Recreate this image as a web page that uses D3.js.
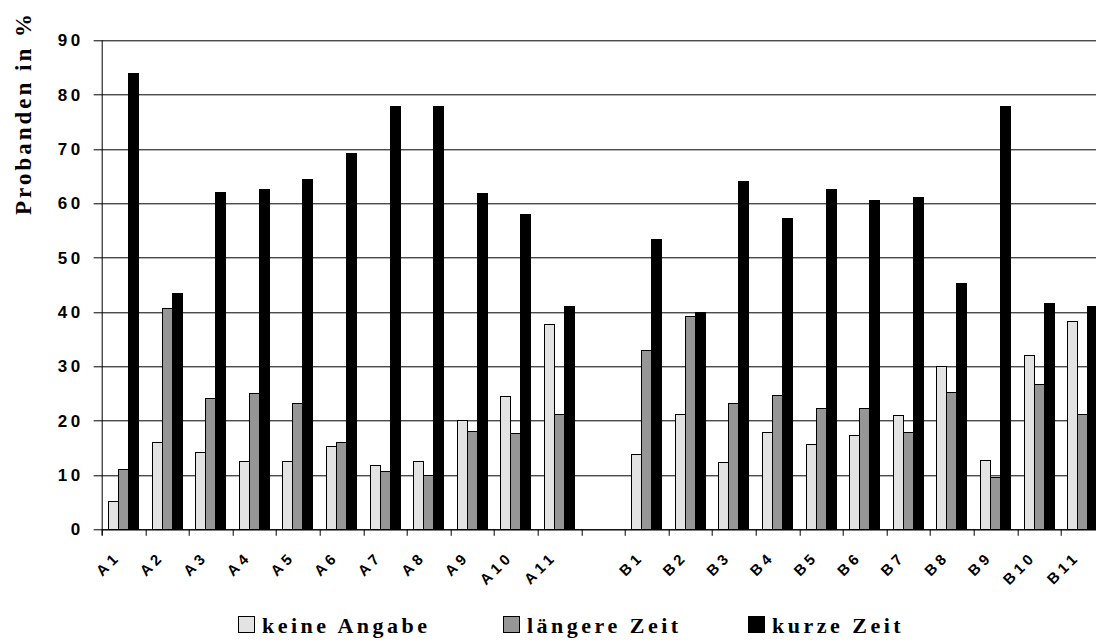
<!DOCTYPE html>
<html>
<head>
<meta charset="utf-8">
<script src="https://cdn.jsdelivr.net/npm/d3@7"></script>
<style>
  html, body { margin: 0; padding: 0; background: #fff; overflow: hidden; }
  svg { display: block; }
</style>
</head>
<body>
<div id="chart"></div>
<script>
// categories (empty slot between the A and B block)
const categories = ["A1", "A2", "A3", "A4", "A5", "A6", "A7", "A8", "A9", "A10", "A11", "",
                    "B1", "B2", "B3", "B4", "B5", "B6", "B7", "B8", "B9", "B10", "B11"];

const keineAngabe = [5.2, 16.0, 14.2, 12.5, 12.5, 15.3, 11.8, 12.5, 20.0, 24.5, 37.7, null,
                     13.7, 21.2, 12.3, 17.9, 15.6, 17.2, 21.0, 29.9, 12.7, 32.0, 38.2];
const laengereZeit = [11.0, 40.7, 24.1, 25.0, 23.1, 16.0, 10.6, 9.9, 18.1, 17.7, 21.2, null,
                      33.0, 39.1, 23.1, 24.7, 22.2, 22.2, 17.9, 25.2, 9.5, 26.6, 21.2];
const kurzeZeit = [83.9, 43.4, 62.0, 62.5, 64.4, 69.1, 77.8, 77.8, 61.8, 58.0, 41.1, null,
                   53.4, 39.9, 64.1, 57.3, 62.5, 60.6, 61.1, 45.3, 77.8, 41.5, 41.1];

const seriesNames = ["keine Angabe", "längere Zeit", "kurze Zeit"];
const seriesColors = ["#e3e3e3", "#969696", "#000000"];
const yTicks = [0, 10, 20, 30, 40, 50, 60, 70, 80, 90];

const totalWidth = 1096, totalHeight = 642;
const margin = { top: 40.3, left: 101.7 };
const width = 23 * 43.6;      // plot runs a bit past the right edge, as in the original
const height = 489.1;

const svg = d3.select("#chart").append("svg")
    .attr("width", totalWidth)
    .attr("height", totalHeight);

const g = svg.append("g").attr("transform", `translate(${margin.left},${margin.top})`);

// scales
const x0 = d3.scaleBand()
    .domain(d3.range(categories.length))
    .range([0, width])
    .padding(0);

const groupWidth = 30;
const x1 = d3.scaleBand()
    .domain(d3.range(seriesNames.length))
    .range([0, groupWidth]);

const y = d3.scaleLinear()
    .domain([0, 90])
    .range([height, 0]);

// gridlines (with the little tick out to the left)
g.append("g")
    .selectAll("line")
    .data(yTicks)
    .join("line")
    .attr("x1", -8)
    .attr("x2", width)
    .attr("y1", d => Math.round(y(d)) + 0.5)
    .attr("y2", d => Math.round(y(d)) + 0.5)
    .attr("stroke", "#000")
    .attr("stroke-width", 1);

// y axis labels
const yAxis = d3.axisLeft(y)
    .tickValues(yTicks)
    .tickSize(0)
    .tickPadding(18);

const yAxisG = g.append("g").call(yAxis);
yAxisG.select(".domain").remove();
yAxisG.selectAll("text")
    .style("font-family", "'Liberation Sans', Arial, sans-serif")
    .style("font-weight", "bold")
    .style("font-size", "17px")
    .style("letter-spacing", "3.5px")
    .attr("fill", "#000");

// bars
const table = categories.map((c, i) => ({ i, values: [keineAngabe[i], laengereZeit[i], kurzeZeit[i]] }));
const offset = (x0.bandwidth() - groupWidth) / 2;

const groups = g.append("g")
    .selectAll("g")
    .data(table)
    .join("g")
    .attr("transform", d => `translate(${x0(d.i) + offset},0)`);

groups.selectAll("rect")
    .data(d => d.values.map((v, s) => ({ v, s })).filter(e => e.v != null))
    .join("rect")
    .attr("x", d => x1(d.s))
    .attr("width", x1.bandwidth())
    .attr("y", d => y(d.v))
    .attr("height", d => y(0) - y(d.v))
    .attr("fill", d => seriesColors[d.s])
    .attr("stroke", "#000")
    .attr("stroke-width", 1)
    .attr("shape-rendering", "crispEdges");

// left axis line
g.append("line")
    .attr("x1", 0.5).attr("x2", 0.5)
    .attr("y1", y(90)).attr("y2", y(0) + 6)
    .attr("stroke", "#000");

// x axis with ticks at the slot borders
const xAxis = g.append("g").attr("transform", `translate(0,${Math.round(y(0)) + 0.5})`);
xAxis.append("line")
    .attr("x1", 0).attr("x2", width)
    .attr("stroke", "#000");
xAxis.selectAll("line.tick")
    .data(d3.range(categories.length + 1))
    .join("line")
    .attr("class", "tick")
    .attr("x1", d => Math.round(d * x0.step()) + 0.5)
    .attr("x2", d => Math.round(d * x0.step()) + 0.5)
    .attr("y1", 0)
    .attr("y2", 6)
    .attr("stroke", "#000");

xAxis.selectAll("text")
    .data(table.filter(d => categories[d.i] !== ""))
    .join("text")
    .attr("transform", d => `translate(${x0(d.i) + x0.bandwidth() / 2 - 2},28) rotate(-45)`)
    .attr("text-anchor", "end")
    .style("font-family", "'Liberation Sans', Arial, sans-serif")
    .style("font-weight", "bold")
    .style("font-size", "15px")
    .style("letter-spacing", "4px")
    .text(d => categories[d.i]);

// y axis title
svg.append("text")
    .attr("transform", "translate(31,113) rotate(-90)")
    .attr("text-anchor", "middle")
    .style("font-family", "'Liberation Serif', 'Times New Roman', serif")
    .style("font-weight", "bold")
    .style("font-size", "23px")
    .style("letter-spacing", "3px")
    .text("Probanden in %");

// legend
const legendX = [238, 503, 748];
const legend = svg.append("g")
    .selectAll("g")
    .data(seriesNames)
    .join("g")
    .attr("transform", (d, i) => `translate(${legendX[i]},616)`);

legend.append("rect")
    .attr("x", 0.5).attr("y", 0.5)
    .attr("width", 16).attr("height", 16)
    .attr("fill", (d, i) => seriesColors[i])
    .attr("stroke", "#000");

legend.append("text")
    .attr("x", 24)
    .attr("y", 17)
    .style("font-family", "'Liberation Serif', 'Times New Roman', serif")
    .style("font-weight", "bold")
    .style("font-size", "22px")
    .style("letter-spacing", "3.5px")
    .text(d => d);
</script>
</body>
</html>
